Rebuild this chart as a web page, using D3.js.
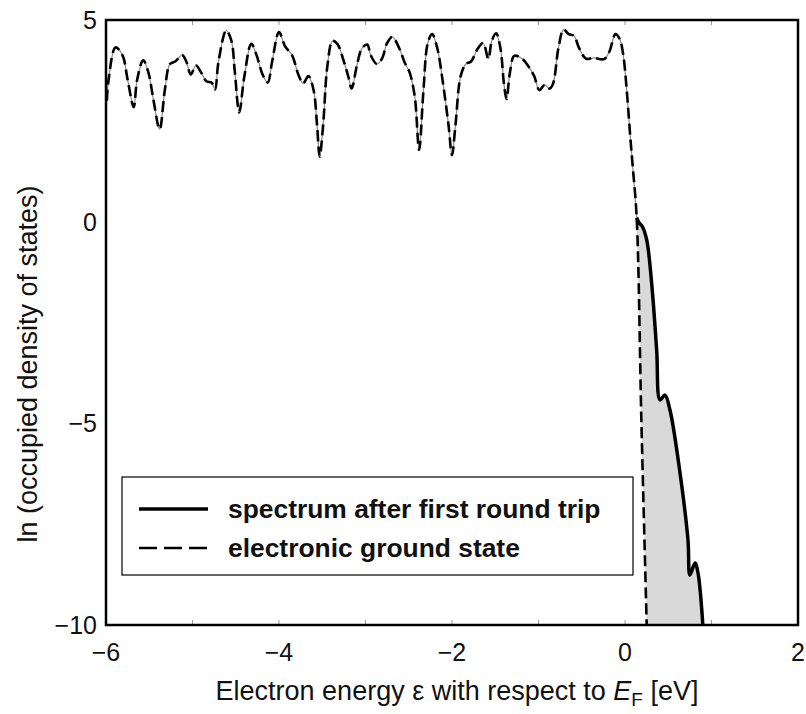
<!DOCTYPE html>
<html>
<head>
<meta charset="utf-8">
<script src="https://cdn.jsdelivr.net/npm/d3@7"></script>
<style>
  body { margin: 0; background: #fff; }
  svg text { font-family: "Liberation Sans", Arial, sans-serif; fill: #111; }
</style>
</head>
<body>
<div id="chart"></div>
<script>
// valence band part, both curves coincide here
var bandEnergy = [-5.99, -5.97, -5.89, -5.81, -5.75, -5.68, -5.64, -5.57, -5.51, -5.45, -5.38, -5.32, -5.26, -5.20,
    -5.12, -5.07, -5.02, -4.96, -4.90, -4.84, -4.78, -4.74, -4.70, -4.61, -4.55, -4.51, -4.46, -4.40, -4.32, -4.26,
    -4.19, -4.13, -4.08, -4.00, -3.93, -3.85, -3.77, -3.72, -3.66, -3.60, -3.56, -3.53, -3.49, -3.44, -3.38, -3.32,
    -3.26, -3.20, -3.16, -3.10, -3.04, -2.98, -2.94, -2.87, -2.81, -2.75, -2.69, -2.61, -2.55, -2.49, -2.43, -2.38,
    -2.33, -2.28, -2.23, -2.17, -2.11, -2.04, -2.00, -1.96, -1.90, -1.84, -1.78, -1.70, -1.64, -1.58, -1.54, -1.49,
    -1.44, -1.40, -1.37, -1.33, -1.28, -1.19, -1.11, -1.05, -0.99, -0.93, -0.87, -0.83, -0.77, -0.71, -0.65, -0.59,
    -0.53, -0.45, -0.36, -0.24, -0.18, -0.11, -0.06, -0.02, 0.02, 0.06, 0.09];
var bandLnDos = [3.00, 3.52, 4.32, 4.13, 3.52, 2.84, 3.52, 4.00, 3.70, 3.00, 2.29, 3.26, 3.91, 3.97,
    4.13, 3.96, 3.65, 3.87, 3.70, 3.48, 3.45, 3.28, 3.96, 4.74, 4.48, 3.70, 2.71, 3.61, 4.41, 4.13,
    3.65, 3.45, 3.96, 4.70, 4.35, 4.13, 3.61, 3.43, 3.61, 3.26, 2.39, 1.61, 2.39, 3.87, 4.48, 4.39,
    4.04, 3.61, 3.30, 3.87, 4.30, 4.39, 4.13, 3.91, 4.04, 4.43, 4.58, 4.30, 3.96, 3.70, 3.09, 1.78,
    3.26, 4.43, 4.65, 4.30, 3.52, 2.39, 1.65, 2.39, 3.61, 3.91, 3.97, 4.30, 4.43, 4.04, 4.48, 4.67,
    4.30, 3.43, 3.04, 3.70, 4.11, 4.04, 3.83, 3.61, 3.26, 3.39, 3.30, 3.43, 4.30, 4.76, 4.65, 4.61,
    4.30, 4.04, 4.06, 4.03, 4.22, 4.65, 4.52, 4.13, 3.26, 2.13, 1.35];

// above the Fermi level
var groundTailEnergy = [0.135, 0.19, 0.251];
var groundTailLnDos = [0.1, -5.0, -10.0];
var spectrumTailEnergy = [0.135, 0.16, 0.20, 0.251, 0.309, 0.366, 0.405, 0.462, 0.52, 0.636, 0.728, 0.751, 0.809, 0.844, 0.90];
var spectrumTailLnDos = [0.1, -0.02, -0.12, -0.45, -1.55, -3.18, -4.42, -4.30, -4.67, -6.23, -7.89, -8.76, -8.46, -8.71, -10.0];

var xTicks = [-6, -4, -2, 0, 2];
var yTicks = [5, 0, -5, -10];
var legendLabels = ["spectrum after first round trip", "electronic ground state"];

var width = 806, height = 714;
var pLeft = 106, pRight = 798, pTop = 20, pBottom = 625;

var svg = d3.select("#chart").append("svg")
    .attr("width", width)
    .attr("height", height);

var x = d3.scaleLinear().domain([-6, 2]).range([pLeft, pRight]);
var y = d3.scaleLinear().domain([-10, 5]).range([pBottom, pTop]);

function zipPts(es, ls) { return es.map(function (e, i) { return [e, ls[i]]; }); }

var band = zipPts(bandEnergy, bandLnDos);
var groundTail = zipPts(groundTailEnergy, groundTailLnDos);
var spectrumTail = zipPts(spectrumTailEnergy, spectrumTailLnDos);

var line = d3.line()
    .x(function (d) { return x(d[0]); })
    .y(function (d) { return y(d[1]); })
    .curve(d3.curveCatmullRom.alpha(0.5));
var lineLin = d3.line()
    .x(function (d) { return x(d[0]); })
    .y(function (d) { return y(d[1]); });

svg.append("defs").append("clipPath").attr("id", "plotclip")
    .append("rect").attr("x", pLeft).attr("y", pTop).attr("width", pRight - pLeft).attr("height", pBottom - pTop);

var plot = svg.append("g").attr("clip-path", "url(#plotclip)");

// shaded area between the two curves
plot.append("path")
    .attr("d", line(spectrumTail) + lineLin(groundTail.slice().reverse()).replace(/^M/, "L") + "Z")
    .attr("fill", "#d9d9d9")
    .attr("stroke", "none");

// spectrum: thin grey through the band, thick black above E_F
plot.append("path")
    .attr("d", line(band.concat([spectrumTail[0]])))
    .attr("fill", "none")
    .attr("stroke", "#888")
    .attr("stroke-width", 1.2);

plot.append("path")
    .attr("d", line(spectrumTail))
    .attr("fill", "none")
    .attr("stroke", "#000")
    .attr("stroke-width", 3.5);

// ground state, dashed
plot.append("path")
    .attr("d", line(band.concat(groundTail)))
    .attr("fill", "none")
    .attr("stroke", "#000")
    .attr("stroke-width", 2.6)
    .attr("stroke-dasharray", "11,5");

// little grey ticks at every integer energy
var minor = d3.range(-5, 2);
svg.selectAll(".tickTop").data(minor).enter().append("line")
    .attr("x1", function (d) { return x(d); }).attr("x2", function (d) { return x(d); })
    .attr("y1", pTop).attr("y2", pTop + 5)
    .attr("stroke", "#999").attr("stroke-width", 1);
svg.selectAll(".tickBot").data(minor).enter().append("line")
    .attr("x1", function (d) { return x(d); }).attr("x2", function (d) { return x(d); })
    .attr("y1", pBottom).attr("y2", pBottom - 5)
    .attr("stroke", "#999").attr("stroke-width", 1);

// frame
svg.append("rect")
    .attr("x", pLeft).attr("y", pTop)
    .attr("width", pRight - pLeft).attr("height", pBottom - pTop)
    .attr("fill", "none")
    .attr("stroke", "#000")
    .attr("stroke-width", 2.5);

function minus(v) { return v < 0 ? "\u2212" + Math.abs(v) : "" + v; }

svg.selectAll(".xlab").data(xTicks).enter().append("text")
    .attr("x", function (d) { return x(d); })
    .attr("y", 661)
    .attr("text-anchor", "middle")
    .style("font-size", "25px")
    .text(minus);

svg.selectAll(".ylab").data(yTicks).enter().append("text")
    .attr("x", 97)
    .attr("y", function (d) { return y(d) + 9; })
    .attr("text-anchor", "end")
    .style("font-size", "25px")
    .text(minus);

// axis titles
var xt = svg.append("text")
    .attr("x", 457)
    .attr("y", 700)
    .attr("text-anchor", "middle")
    .style("font-size", "27px");
xt.append("tspan").text("Electron energy \u03b5 with respect to ");
xt.append("tspan").style("font-style", "italic").text("E");
xt.append("tspan").attr("dy", 6).style("font-size", "19px").text("F");
xt.append("tspan").attr("dy", -6).text("  [eV]");

svg.append("text")
    .attr("transform", "translate(37,364) rotate(-90)")
    .attr("text-anchor", "middle")
    .style("font-size", "27px")
    .text("ln (occupied density of states)");

// legend
var lg = svg.append("g");
lg.append("rect")
    .attr("x", 122).attr("y", 477)
    .attr("width", 511).attr("height", 98)
    .attr("fill", "#fff")
    .attr("stroke", "#000")
    .attr("stroke-width", 1.2);
lg.append("line")
    .attr("x1", 139).attr("x2", 208).attr("y1", 509).attr("y2", 509)
    .attr("stroke", "#000").attr("stroke-width", 3.5);
lg.append("line")
    .attr("x1", 139).attr("x2", 208).attr("y1", 548).attr("y2", 548)
    .attr("stroke", "#000").attr("stroke-width", 2.6)
    .attr("stroke-dasharray", "18,7");
lg.selectAll(".lgtext").data(legendLabels).enter().append("text")
    .attr("x", 228)
    .attr("y", function (d, i) { return 518 + i * 39; })
    .style("font-size", "26.4px")
    .style("font-weight", "bold")
    .text(function (d) { return d; });
</script>
</body>
</html>
